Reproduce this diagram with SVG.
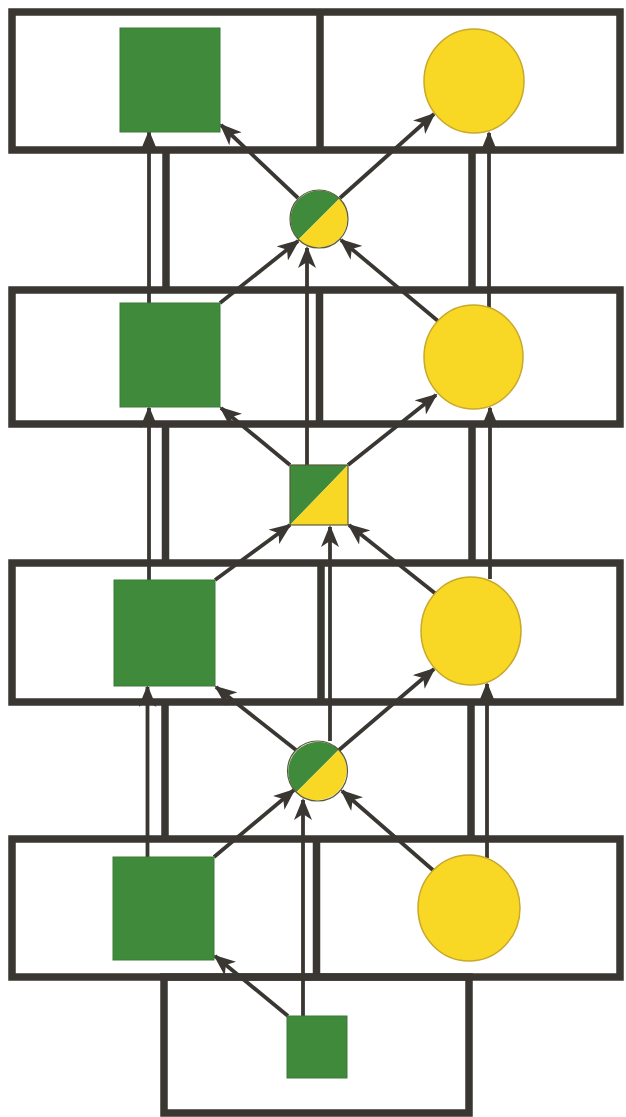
<svg xmlns="http://www.w3.org/2000/svg" width="626" height="1117" viewBox="0 0 626 1117">
<style>
.box{fill:none;stroke:#3a3733;stroke-width:7.5}
.div{stroke:#3a3733;stroke-width:7.5;fill:none}
.pipe{stroke:#3a3733;stroke-width:7.5;fill:none}
.c{stroke:#3a3733;stroke-width:3.8;fill:none;marker-end:url(#ah)}
.g{fill:#3f8a3b;stroke:#3a7a36;stroke-width:1}
.y{fill:#f8d825;stroke:#c9a82a;stroke-width:1.5}
.gm{fill:#3f8a3b}
.ym{fill:#f8d825}
.ol{fill:none;stroke:#5a5a3a;stroke-width:1.2}
</style>
<defs>
<marker id="ah" viewBox="0 0 22 18" refX="20" refY="9" markerWidth="22" markerHeight="18" markerUnits="userSpaceOnUse" orient="auto">
<path d="M0,0 L22,9 L0,18 L6,9 z" fill="#3a3733"/>
</marker>
</defs>
<rect width="626" height="1117" fill="#ffffff"/>

<g id="frames">
<rect class="box" x="12" y="12" width="608" height="138"/>
<line class="div" x1="320" y1="12" x2="320" y2="150"/>
<rect class="box" x="12" y="290" width="608" height="134"/>
<line class="div" x1="319.5" y1="290" x2="319.5" y2="424"/>
<rect class="box" x="12" y="563" width="608" height="139"/>
<line class="div" x1="321" y1="563" x2="321" y2="702"/>
<rect class="box" x="12" y="839" width="608" height="138"/>
<line class="div" x1="316.5" y1="839" x2="316.5" y2="977"/>
<rect class="box" x="164" y="977" width="305" height="136"/>
<line class="pipe" x1="166" y1="150" x2="166" y2="290"/>
<line class="pipe" x1="472" y1="150" x2="472" y2="290"/>
<line class="pipe" x1="165.5" y1="424" x2="165.5" y2="563"/>
<line class="pipe" x1="472" y1="424" x2="472" y2="563"/>
<line class="pipe" x1="165" y1="702" x2="165" y2="839"/>
<line class="pipe" x1="471" y1="702" x2="471" y2="839"/>
</g>

<g id="connectors">
<line class="c" x1="149" y1="303" x2="149" y2="132"/>
<line class="c" x1="489" y1="309" x2="489" y2="133"/>
<line class="c" x1="149" y1="580" x2="149" y2="408"/>
<line class="c" x1="490" y1="579" x2="490" y2="408"/>
<line class="c" x1="147.5" y1="857" x2="147.5" y2="687"/>
<line class="c" x1="487" y1="858" x2="487" y2="684"/>

<line class="c" x1="298" y1="198" x2="221" y2="125"/>
<line class="c" x1="340" y1="198" x2="434" y2="114"/>
<line class="c" x1="220" y1="303" x2="298" y2="241"/>
<line class="c" x1="307" y1="465" x2="307" y2="248"/>
<line class="c" x1="438" y1="321" x2="341" y2="240"/>

<line class="c" x1="290" y1="465" x2="221" y2="408"/>
<line class="c" x1="348" y1="465" x2="436" y2="395"/>
<line class="c" x1="215" y1="580" x2="290" y2="525"/>
<line class="c" x1="330" y1="741" x2="330" y2="527"/>
<line class="c" x1="436" y1="594" x2="349" y2="525"/>

<line class="c" x1="296" y1="750" x2="216" y2="687"/>
<line class="c" x1="339" y1="750" x2="434" y2="669"/>
<line class="c" x1="214" y1="857" x2="294" y2="790"/>
<line class="c" x1="303" y1="1016" x2="303" y2="800"/>
<line class="c" x1="434" y1="871" x2="342" y2="791"/>

<line class="c" x1="288" y1="1016" x2="215" y2="956"/>
</g>

<g id="t1-male"><rect class="g" x="120" y="28" width="100" height="104"/></g>
<g id="t1-female"><ellipse class="y" cx="474" cy="81" rx="50" ry="52"/></g>
<g id="t2-male"><rect class="g" x="120" y="303" width="100" height="104"/></g>
<g id="t2-female"><ellipse class="y" cx="473.5" cy="357" rx="49.5" ry="52"/></g>
<g id="t3-male"><rect class="g" x="114" y="580" width="101" height="106"/></g>
<g id="t3-female"><ellipse class="y" cx="471" cy="631" rx="50" ry="54"/></g>
<g id="t4-male"><rect class="g" x="113" y="857" width="101" height="103"/></g>
<g id="t4-female"><ellipse class="y" cx="469" cy="908" rx="51" ry="53"/></g>

<g id="mix-a">
<path class="gm" d="M339.5,198.5 A29,29 0 0 0 298.5,239.5 Z"/>
<path class="ym" d="M339.5,198.5 A29,29 0 0 1 298.5,239.5 Z"/>
<circle class="ol" cx="319" cy="219" r="29"/>
</g>
<g id="mix-b">
<polygon class="gm" points="290,465 348,465 290,525"/>
<polygon class="ym" points="348,465 348,525 290,525"/>
<rect class="ol" x="290" y="465" width="58" height="60"/>
</g>
<g id="mix-c">
<path class="gm" d="M338.7,749.8 A30,30 0 0 0 296.3,792.2 Z"/>
<path class="ym" d="M338.7,749.8 A30,30 0 0 1 296.3,792.2 Z"/>
<circle class="ol" cx="317.5" cy="771" r="30"/>
</g>
<g id="base"><rect class="g" x="287" y="1016" width="60" height="62"/></g>
</svg>
